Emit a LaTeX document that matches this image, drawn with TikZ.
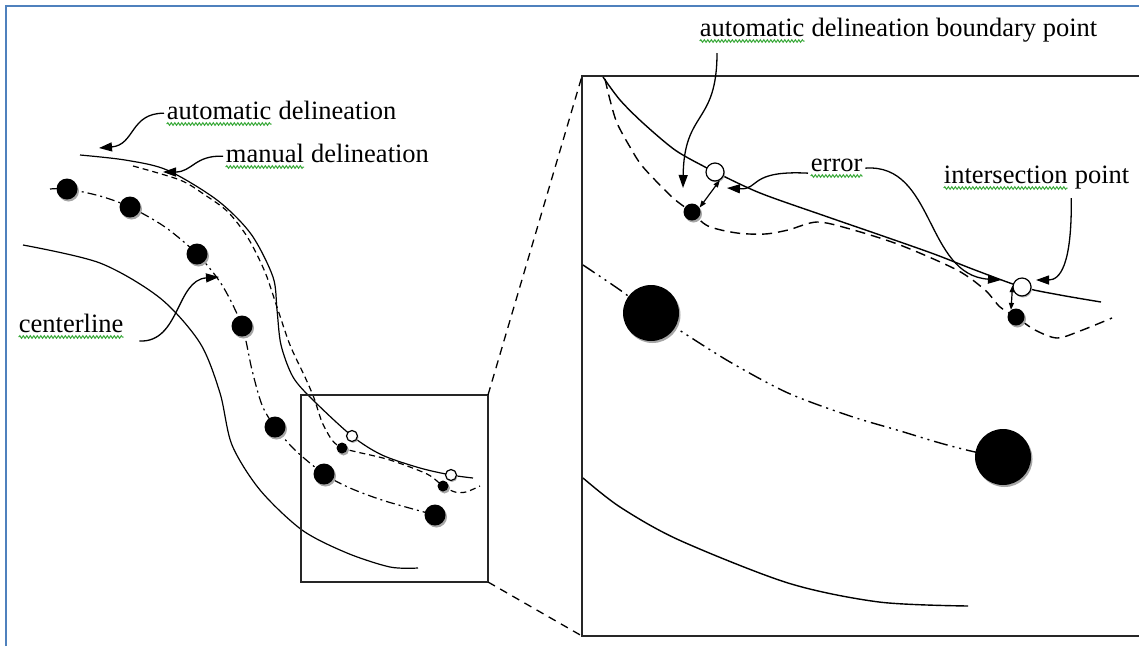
\documentclass[tikz,border=0pt]{standalone}
\usepackage{fontspec}
\setmainfont{Liberation Serif}
\usetikzlibrary{arrows.meta,shadows,decorations.pathmorphing}
\definecolor{frameblue}{RGB}{79,129,189}
\definecolor{spellgreen}{RGB}{60,170,60}
\newcommand{\lblfont}{\fontsize{26.5}{30}\selectfont}
\tikzset{spellline/.style={draw=spellgreen, line width=1pt, decorate,
    decoration={snake, amplitude=1.3pt, segment length=3.5pt}}}
% green spell-check squiggle under a word
\newcommand{\spell}[1]{\tikz[baseline=(w.base)]{\node[inner sep=0pt] (w) {#1};
    \draw[spellline] ([yshift=-5pt]w.base west) -- ([yshift=-5pt]w.base east);}}
\begin{document}
\begin{tikzpicture}[x=1pt, y=-1pt,
    pageframe/.style={draw=frameblue, line width=2.5pt},
    zoombox/.style={draw=black!85, line width=1.8pt},
    zoomlink/.style={line width=1.3pt, dash pattern=on 8pt off 6pt},
    autoline/.style={line width=1.2pt},
    roadedge/.style={line width=1.2pt},
    manline/.style={line width=1.2pt, dash pattern=on 6pt off 4pt},
    manzoom/.style={line width=1.4pt, dash pattern=on 10pt off 6pt},
    censmall/.style={line width=1.2pt, dash pattern=on 9pt off 4pt on 2pt off 4pt},
    cenzoom/.style={line width=1.4pt, dash pattern=on 14pt off 5pt on 2pt off 5pt on 2pt off 5pt},
    centerdot/.style={circle, fill=black, inner sep=0pt, minimum size=#1,
        drop shadow={shadow xshift=1.5pt, shadow yshift=-2pt, fill=black!35, opacity=1}},
    boundring/.style={circle, draw, fill=white, line width=1.2pt, inner sep=0pt, minimum size=#1,
        drop shadow={shadow xshift=1pt, shadow yshift=-1.5pt, fill=black!30, opacity=1}},
    lbl/.style={font=\lblfont, anchor=base west, inner sep=2pt},
    leader/.style={line width=1.3pt, -{Triangle[length=13pt, width=9pt]}},
    errbar/.style={line width=1.2pt, {Triangle[length=7pt, width=5pt]}-{Triangle[length=7pt, width=5pt]}}]
\useasboundingbox (0,0) rectangle (1139,646);
\draw[pageframe] (6,646) -- (6,6) -- (1139,6);

% overview: road edge, delineations, centerline
\draw[roadedge] plot[smooth] coordinates {(23,245) (100,263) (160,298) (200,343) (220,393)
    (232,445) (260,490) (302,530) (347,553) (390,567) (418,568)};
\draw[autoline] plot[smooth] coordinates {(80,155) (125,160) (167,170) (217,200) (251,234)
    (273,277) (277,310) (281,345) (293,377) (313,400) (352,436) (382,455) (420,468) (451,475) (473,478)};
\draw[manline] plot[smooth] coordinates {(133,166) (180,180) (205,195) (228,212) (248,238)
    (265,272) (277,307) (290,345) (305,377) (314,398) (322,422) (332,440) (342,448) (357,452)
    (390,460) (427,474) (443,486) (455,492) (466,492) (480,486)};
\draw[censmall] plot[smooth] coordinates {(50,189) (67,189) (100,196) (130,207) (165,227)
    (197,254) (222,285) (242,326) (252,370) (262,405) (275,427) (295,450) (324,474) (350,488)
    (385,501) (435,515)};
\foreach \x/\y [count=\i] in {67/189, 130/207, 197/254, 242/326, 275/427, 324/474, 435/515}
    \node[centerdot=21pt] (c\i) at (\x,\y) {};
\node[boundring=11pt] (ring1) at (352,436) {};
\node[boundring=11pt] (ring2) at (451,475) {};
\node[centerdot=11pt] (man1) at (342,448) {};
\node[centerdot=11pt] (man2) at (443,486) {};

% zoom boxes
\coordinate (sNE) at (488,395);
\coordinate (sSE) at (488,582);
\coordinate (bNW) at (582,76);
\coordinate (bSW) at (582,636);
\draw[zoombox] (301,395) rectangle (sSE);
\draw[zoombox] (1139,76) -- (bNW) -- (bSW) -- (1139,636);
\draw[zoomlink] (sNE) -- (bNW);
\draw[zoomlink] (sSE) -- (bSW);

% zoomed view
\draw[autoline, line width=1.4pt] plot[smooth] coordinates {(603,77) (620,100) (643,123) (675,150)
    (705,167) (715,172) (760,193) (825,216) (880,235) (934,254) (975,270) (1022,287) (1060,295) (1101,302)};
\draw[manzoom] plot[smooth] coordinates {(605,79) (610,100) (617,123) (630,147) (643,167) (672,197)
    (690,211) (708,226) (737,233) (765,234) (788,230) (817,222) (850,229) (900,245) (957,270)
    (985,290) (1000,307) (1016,317) (1035,330) (1057,338) (1080,331) (1112,318)};
\draw[cenzoom] plot[smooth] coordinates {(583,265) (620,290) (651,313) (679,330) (730,362) (788,393)
    (850,416) (897,430) (940,443) (975,452) (1003,457)};
\draw[roadedge, line width=1.4pt] plot[smooth] coordinates {(583,478) (620,507) (679,540)
    (788,583) (879,602) (968,606)};
\node[centerdot=56pt] (zc1) at (651,313) {};
\node[centerdot=56pt] (zc2) at (1003,457) {};
\node[boundring=18pt] (ringA) at (715,172) {};
\node[boundring=18pt] (ringB) at (1022,287) {};
\node[centerdot=17pt] (dotA) at (692,212) {};
\node[centerdot=17pt] (dotB) at (1016,317) {};
\draw[errbar] (ringA.-60) -- (dotA.30);
\draw[errbar] (ringB.170) -- (dotB.125);

% labels
\node[lbl] (autoLbl) at (164,119) {\spell{automatic} delineation};
\node[lbl] (manLbl) at (223,162) {\spell{manual} delineation};
\node[lbl] (cenLbl) at (16,332) {\spell{centerline}};
\node[lbl] (bndLbl) at (697,36) {\spell{automatic} delineation boundary point};
\node[lbl] (errLbl) at (808,171) {\spell{error}};
\node[lbl] (intLbl) at (941,183) {\spell{intersection} point};

% leaders
\coordinate (autoTip) at (99,148);
\coordinate (manTip) at (163,172);
\coordinate (cenTip) at (219,277);
\coordinate (bndTip) at (683,188);
\coordinate (errTipA) at (727,188);
\coordinate (errTipB) at (1001,280);
\coordinate (intTip) at (1036,280);
\draw[leader] (autoLbl.west) .. controls (130,113) and (135,145) .. (autoTip);
\draw[leader] (manLbl.west) .. controls (195,155) and (192,172) .. (manTip);
\draw[leader] ([xshift=13pt]cenLbl.south east) .. controls (180,343) and (176,280) .. (cenTip);
\draw[leader] ([xshift=20pt,yshift=-8pt]bndLbl.south west) .. controls (717,125) and (684,110) .. (bndTip);
\draw[leader] ([yshift=-5pt]errLbl.west) .. controls (748,170) and (760,190) .. (errTipA);
\draw[leader] (errLbl.east) .. controls (935,163) and (925,275) .. (errTipB);
\draw[leader] ([xshift=35pt,yshift=-6pt]intLbl.south) .. controls (1072,265) and (1060,280) .. (intTip);
\end{tikzpicture}
\end{document}
